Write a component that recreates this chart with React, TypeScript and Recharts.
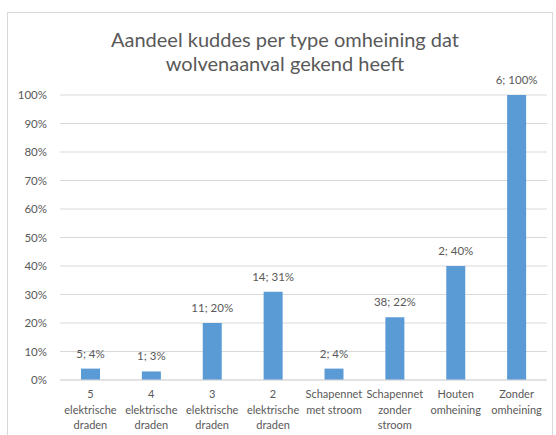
import { Bar, BarChart, CartesianGrid, LabelList, XAxis, YAxis } from 'recharts';

// Aandeel kuddes met wolvenaanval per type omheining (aantal; aandeel).

const CATEGORIEEN = ['5 elektrische draden', '4 elektrische draden', '3 elektrische draden', '2 elektrische draden', 'Schapennet met stroom', 'Schapennet zonder stroom', 'Houten omheining', 'Zonder omheining'];
const LABEL_REGELS: string[][] = [
  ['5', 'elektrische', 'draden'],
  ['4', 'elektrische', 'draden'],
  ['3', 'elektrische', 'draden'],
  ['2', 'elektrische', 'draden'],
  ['Schapennet', 'met stroom'],
  ['Schapennet', 'zonder', 'stroom'],
  ['Houten', 'omheining'],
  ['Zonder', 'omheining'],
];
const AANTAL = [5, 1, 11, 14, 2, 38, 2, 6];
const AANDEEL = [4, 3, 20, 31, 4, 22, 40, 100];
const Y_TICKS = [0, 10, 20, 30, 40, 50, 60, 70, 80, 90, 100];

const data = CATEGORIEEN.map((naam, i) => ({ naam, aandeel: AANDEEL[i], aantal: AANTAL[i] }));

const GRIJS = '#595959';
const FONT = 'Lato, "Open Sans", sans-serif';

function CategorieTick({ x, y, index }: any) {
  const regels = LABEL_REGELS[index] ?? [];
  return (
    <text x={x} y={y} textAnchor="middle" fill={GRIJS} fontSize={11} fontFamily={FONT}>
      {regels.map((regel, r) => (
        <tspan key={r} x={x} dy={r === 0 ? 18 : 15.5}>
          {regel}
        </tspan>
      ))}
    </text>
  );
}

function WaardeLabel({ x, y, width, index }: any) {
  return (
    <text x={x + width / 2} y={y - 11} textAnchor="middle" fill={GRIJS} fontSize={11.5} fontFamily={FONT}>
      {`${AANTAL[index]}; ${AANDEEL[index]}%`}
    </text>
  );
}

export default function App() {
  return (
    <div
      style={{
        position: 'absolute',
        left: 7,
        top: 12,
        width: 544,
        height: 440,
        border: '1px solid #d9d9d9',
        background: '#fff',
        fontFamily: FONT,
      }}
    >
      <div
        style={{
          position: 'absolute',
          left: 0,
          width: 554,
          top: 15,
          textAlign: 'center',
          color: GRIJS,
          fontSize: 20,
          lineHeight: '23.5px',
        }}
      >
        Aandeel kuddes per type omheining dat
        <br />
        wolvenaanval gekend heeft
      </div>
      <BarChart width={544} height={430} data={data} margin={{ top: 82, right: 5, bottom: 0, left: 0 }} barSize={19}>
        <CartesianGrid stroke="#d9d9d9" vertical={false} />
        <XAxis
          dataKey="naam"
          interval={0}
          tickLine={false}
          tickSize={0}
          tickMargin={0}
          axisLine={{ stroke: '#d9d9d9' }}
          height={63}
          tick={<CategorieTick />}
        />
        <YAxis
          width={52}
          domain={[0, 100]}
          ticks={Y_TICKS}
          tickFormatter={(v: number) => `${v}%`}
          axisLine={false}
          tickLine={false}
          tickSize={0}
          tickMargin={13}
          tick={{ fill: GRIJS, fontSize: 11.5, fontFamily: FONT }}
        />
        <Bar dataKey="aandeel" fill="#5b9bd5" isAnimationActive={false}>
          <LabelList dataKey="aandeel" content={<WaardeLabel />} />
        </Bar>
      </BarChart>
    </div>
  );
}
